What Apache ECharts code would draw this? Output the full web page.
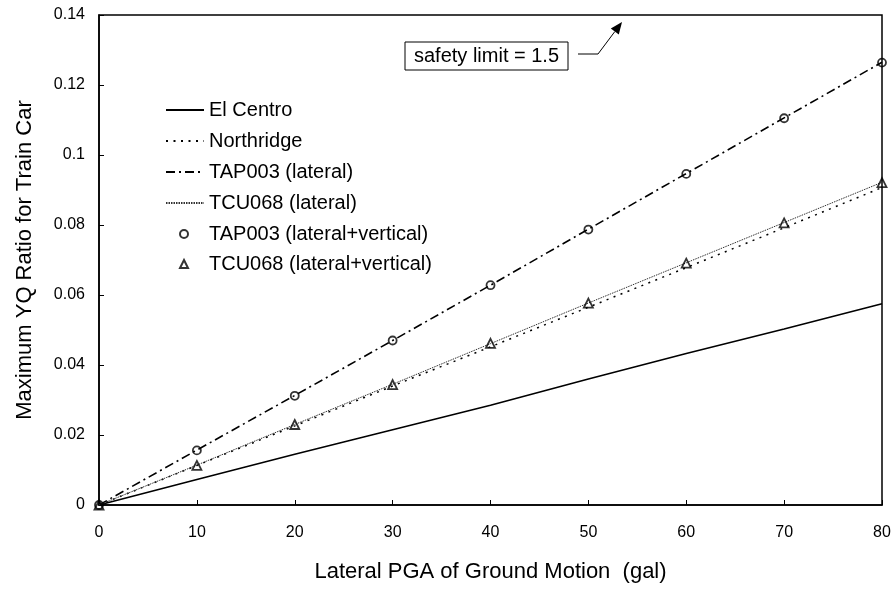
<!DOCTYPE html>
<html>
<head>
<meta charset="utf-8">
<title>Maximum YQ Ratio for Train Car</title>
<script src="https://cdn.jsdelivr.net/npm/echarts@6/dist/echarts.min.js"></script>
<style>
  html, body { margin: 0; padding: 0; background: #fff; }
  #chart { width: 896px; height: 592px; }
</style>
</head>
<body>
<div id="chart"></div>
<script>
// lateral PGA (gal)
var pga = [0, 10, 20, 30, 40, 50, 60, 70, 80];
// max YQ ratio
var elCentro = [0, 0.0073, 0.0145, 0.0215, 0.0285, 0.0360, 0.0433, 0.0503, 0.0575];
var northridge = [0, 0.0113, 0.0226, 0.0340, 0.0452, 0.0565, 0.0678, 0.0792, 0.0907];
var tap003Lat = [0, 0.0157, 0.0313, 0.0470, 0.0628, 0.0788, 0.0947, 0.1106, 0.1265];
var tcu068Lat = [0, 0.0114, 0.0230, 0.0345, 0.0461, 0.0577, 0.0692, 0.0807, 0.0922];
var tap003LatVert = [0, 0.0156, 0.0312, 0.0470, 0.0628, 0.0787, 0.0946, 0.1105, 0.1264];
var tcu068LatVert = [0, 0.0113, 0.0230, 0.0344, 0.0462, 0.0577, 0.0691, 0.0806, 0.0921];

var FONT = '"Liberation Sans", Arial, sans-serif';

function pairs(ys) {
  return pga.map(function (x, i) { return [x, ys[i]]; });
}

var chart = echarts.init(document.getElementById('chart'));

// arrow from the note box up to the top frame
var arrowFrom = [598, 54], arrowTo = [622, 22];
var dx = arrowTo[0] - arrowFrom[0], dy = arrowTo[1] - arrowFrom[1];
var len = Math.sqrt(dx * dx + dy * dy), ux = dx / len, uy = dy / len;
var headLen = 12, headHalf = 5;
var baseX = arrowTo[0] - ux * headLen, baseY = arrowTo[1] - uy * headLen;

var lineSeries = function (name, ys, style) {
  return {
    name: name,
    type: 'line',
    data: pairs(ys),
    symbol: 'none',
    itemStyle: { color: '#000' },
    lineStyle: Object.assign({ color: '#000' }, style),
    z: 2
  };
};

var markerSeries = function (name, ys, symbol, size) {
  return {
    name: name,
    type: 'scatter',
    data: pairs(ys),
    symbol: symbol,
    symbolSize: size,
    itemStyle: { color: 'rgba(0,0,0,0)', borderColor: '#000', borderWidth: 1.8 },
    z: 3
  };
};

var option = {
  animation: false,
  backgroundColor: '#fff',
  grid: {
    left: 99, right: 14, top: 15, bottom: 87,
    show: true, borderColor: '#000', borderWidth: 1.5
  },
  legend: [{
    orient: 'vertical',
    left: 165, top: 100, padding: 0,
    itemWidth: 38, itemHeight: 14, itemGap: 11,
    // hide the marker drawn in the middle of line icons
    itemStyle: { color: 'rgba(0,0,0,0)', borderColor: 'rgba(0,0,0,0)', borderWidth: 0 },
    textStyle: { fontFamily: FONT, fontSize: 20, color: '#000' },
    data: ['El Centro', 'Northridge', 'TAP003 (lateral)', 'TCU068 (lateral)']
  }, {
    orient: 'vertical',
    left: 179, top: 224, padding: 0,
    itemWidth: 8, itemHeight: 8, itemGap: 10,
    textStyle: { fontFamily: FONT, fontSize: 20, color: '#000', padding: [0, 0, 0, 16] },
    data: ['TAP003 (lateral+vertical)', 'TCU068 (lateral+vertical)']
  }],
  xAxis: {
    type: 'value',
    min: 0, max: 80, interval: 10,
    name: 'Lateral PGA of Ground Motion  (gal)',
    nameLocation: 'middle', nameGap: 56,
    nameTextStyle: { fontFamily: FONT, fontSize: 22, color: '#000' },
    axisLine: { lineStyle: { color: '#000', width: 1.5 } },
    axisTick: { inside: true, length: 5, lineStyle: { color: '#000' } },
    axisLabel: { fontFamily: FONT, fontSize: 16, color: '#000', margin: 20 },
    splitLine: { show: false }
  },
  yAxis: {
    type: 'value',
    min: 0, max: 0.14, interval: 0.02,
    name: 'Maximum YQ Ratio for Train Car',
    nameLocation: 'middle', nameGap: 63,
    nameTextStyle: { fontFamily: FONT, fontSize: 22, color: '#000' },
    axisLine: { show: true, lineStyle: { color: '#000', width: 1.5 } },
    axisTick: { show: true, inside: true, length: 5, lineStyle: { color: '#000' } },
    axisLabel: { fontFamily: FONT, fontSize: 16, color: '#000', margin: 14 },
    splitLine: { show: false }
  },
  series: [
    lineSeries('El Centro', elCentro, { width: 1.6, type: 'solid' }),
    lineSeries('Northridge', northridge, { width: 1.5, type: [2, 5.5] }),
    lineSeries('TAP003 (lateral)', tap003Lat, { width: 1.6, type: [9, 4, 2, 4] }),
    lineSeries('TCU068 (lateral)', tcu068Lat, { width: 1, type: [1.5, 1], color: '#333' }),
    markerSeries('TAP003 (lateral+vertical)', tap003LatVert, 'circle', 8),
    markerSeries('TCU068 (lateral+vertical)', tcu068LatVert, 'triangle', 9)
  ],
  graphic: [
    {
      type: 'rect',
      shape: { x: 405, y: 42, width: 163, height: 28 },
      style: { fill: '#fff', stroke: '#000', lineWidth: 1 },
      z: 10
    },
    {
      type: 'text',
      x: 486.5, y: 56,
      style: {
        text: 'safety limit = 1.5', fill: '#000',
        font: '20px ' + FONT, align: 'center', verticalAlign: 'middle'
      },
      z: 11
    },
    {
      type: 'polyline',
      shape: { points: [[578, 54], arrowFrom, [baseX, baseY]] },
      style: { stroke: '#000', lineWidth: 1, fill: null },
      z: 10
    },
    {
      type: 'polygon',
      shape: {
        points: [
          arrowTo,
          [baseX - uy * headHalf, baseY + ux * headHalf],
          [baseX + uy * headHalf, baseY - ux * headHalf]
        ]
      },
      style: { fill: '#000' },
      z: 10
    }
  ]
};

chart.setOption(option);
</script>
</body>
</html>
